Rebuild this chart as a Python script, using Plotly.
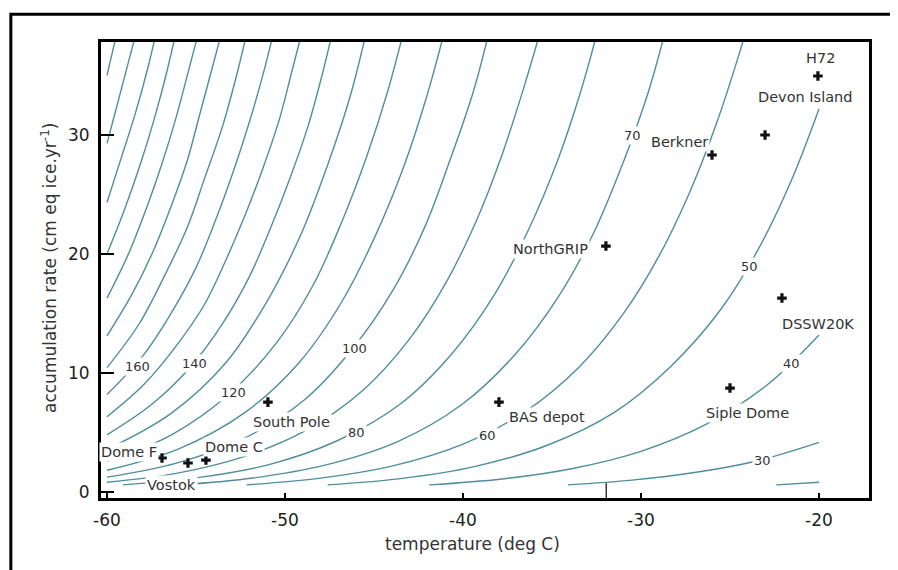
import plotly.graph_objects as go

# ---- contour lines: temperature (deg C) / accumulation (cm ice/yr) ----
t20 = [-22.4, -20.0]
a20 = [0.60, 0.82]
t30 = [-34.1, -30.5, -27.0, -23.4, -20.0]
a30 = [0.60, 1.00, 1.64, 2.65, 4.17]
t40 = [-41.9, -37.8, -33.9, -30.0, -26.3, -22.9, -20.0]
a40 = [0.60, 1.10, 1.96, 3.42, 5.72, 9.01, 13.19]
t50 = [-47.6, -43.4, -39.3, -35.3, -31.5, -28.3, -25.5, -23.3, -21.5, -20.0]
a50 = [0.60, 1.15, 2.16, 3.91, 6.70, 10.60, 15.38, 20.71, 26.37, 32.19]
t60 = [-52.15, -48.0, -44.0, -40.0, -36.5, -33.5, -31.0, -29.0, -27.3, -25.8, -24.5, -23.9]
a60 = [0.60, 1.17, 2.18, 4.03, 6.77, 10.47, 14.97, 19.8, 25.07, 30.8, 36.73, 39.8]
t70 = [-55.9, -51.8, -47.7, -43.7, -40.1, -37.1, -34.6, -32.6, -31.0, -29.6, -28.5]
a70 = [0.60, 1.18, 2.28, 4.22, 7.31, 11.51, 16.51, 21.96, 27.69, 33.55, 39.50]
t80 = [-59.1, -55.0, -50.9, -47.1, -43.5, -40.6, -38.2, -36.3, -34.7, -33.4, -32.3]
a80 = [0.60, 1.19, 2.31, 4.29, 7.42, 11.66, 16.67, 22.10, 27.79, 33.59, 39.50]
t90 = [-60.0, -56.1, -52.4, -48.8, -45.6, -43.0, -40.9, -39.2, -37.8, -36.6, -35.5]
a90 = [0.82, 1.57, 2.93, 5.21, 8.58, 12.87, 17.75, 22.97, 28.37, 33.90, 39.50]
t100 = [-60.0, -56.1, -52.3, -48.9, -46.2, -43.9, -42.1, -40.7, -39.4, -38.4]
a100 = [1.25, 2.43, 4.51, 7.76, 12.06, 17.05, 22.43, 28.02, 33.74, 39.50]
t110 = [-60.0, -56.0, -52.3, -49.2, -46.8, -44.9, -43.3, -42.0, -40.9]
a110 = [1.83, 3.61, 6.63, 10.89, 16.01, 21.61, 27.46, 33.43, 39.50]
t120 = [-60.0, -56.4, -53.2, -50.5, -48.4, -46.8, -45.4, -44.2, -43.2]
a120 = [2.59, 4.79, 8.15, 12.49, 17.44, 22.74, 28.24, 33.83, 39.50]
t130 = [-60.0, -56.4, -53.3, -51.0, -49.1, -47.6, -46.3, -45.3]
a130 = [3.57, 6.61, 10.91, 16.05, 21.66, 27.50, 33.45, 39.50]
t140 = [-60.0, -57.5, -55.3, -53.5, -52.0, -50.8, -49.7, -48.7, -47.9, -47.2]
a140 = [4.81, 7.35, 10.53, 14.17, 18.1, 22.22, 26.46, 30.77, 35.13, 39.5]
t150 = [-60.0, -57.9, -56.1, -54.5, -53.3, -52.2, -51.2, -50.3, -49.6, -48.9]
a150 = [6.33, 9.08, 12.3, 15.82, 19.56, 23.42, 27.38, 31.4, 35.42, 39.5]
t160 = [-60.0, -58.0, -56.4, -55.0, -53.9, -52.9, -52.0, -51.2, -50.5]
a160 = [8.2, 11.42, 15.02, 18.86, 22.85, 26.95, 31.09, 35.28, 39.5]
t170 = [-60.0, -58.2, -56.8, -55.5, -54.5, -53.5, -52.7, -52.0]
a170 = [10.45, 14.12, 18.08, 22.21, 26.44, 30.77, 35.13, 39.5]
t180 = [-60.0, -58.6, -57.4, -56.4, -55.5, -54.8, -54.1, -53.4]
a180 = [13.13, 16.61, 20.25, 24.0, 27.81, 31.68, 35.57, 39.5]
t190 = [-60.0, -58.8, -57.8, -56.9, -56.1, -55.4, -54.7]
a190 = [16.3, 19.99, 23.78, 27.65, 31.57, 35.52, 39.5]
t200 = [-60.0, -59.0, -58.1, -57.3, -56.6, -56.0]
a200 = [20.01, 23.81, 27.67, 31.59, 35.55, 39.5]
t210 = [-60.0, -59.2, -58.4, -57.7, -57.1]
a210 = [24.33, 28.08, 31.86, 35.67, 39.5]
t220 = [-60.0, -59.4, -58.8, -58.2]
a220 = [29.3, 32.69, 36.1, 39.5]
t230 = [-60.0, -59.3]
a230 = [35.01, 39.5]

levels = [20, 30, 40, 50, 60, 70, 80, 90, 100, 110, 120, 130, 140, 150, 160, 170, 180, 190, 200, 210, 220, 230]
level_T = [t20, t30, t40, t50, t60, t70, t80, t90, t100, t110, t120, t130, t140, t150, t160, t170, t180, t190, t200, t210, t220, t230]
level_A = [a20, a30, a40, a50, a60, a70, a80, a90, a100, a110, a120, a130, a140, a150, a160, a170, a180, a190, a200, a210, a220, a230]

# contour labels shown on the chart
clabel_text = ["160", "140", "120", "100", "80", "60", "70", "50", "40", "30"]
clabel_T = [-58.31, -55.06, -52.92, -46.07, -45.96, -38.65, -30.45, -23.88, -21.52, -23.15]
clabel_A = [10.59, 10.84, 8.40, 12.10, 5.04, 4.79, 30.0, 18.99, 10.76, 2.61]

# sites
site_names = ["H72", "Devon Island", "Berkner", "NorthGRIP", "DSSW20K", "Siple Dome",
              "BAS depot", "South Pole", "Dome C", "Vostok", "Dome F"]
site_T = [-20.06, -23.03, -26.01, -31.97, -22.08, -25.0, -37.98, -50.96, -54.44, -55.45, -56.91]
site_A = [34.96, 30.0, 28.32, 20.67, 16.30, 8.74, 7.56, 7.56, 2.69, 2.44, 2.86]
# where each site name is written
name_T = [-19.94, -20.79, -27.81, -35.11, -20.06, -24.04, -35.28, -49.66, -52.87, -56.4, -58.76]
name_A = [36.47, 33.19, 29.41, 20.42, 14.1, 6.64, 6.3, 5.88, 3.78, 0.59, 3.36]

ngrip_T = -31.95          # short vertical marker at the axis
ngrip_mark_A = [-0.5, 0.75]

x_ticks = [-60, -50, -40, -30, -20]
x_ticktext = ["-60", "-50", "-40", "-30", "-20"]
y_ticks = [0, 10, 20, 30]

FONT = "DejaVu Sans"
LINE_COLOR = "#4f8e9c"
TEXT_COLOR = "#333333"

fig = go.Figure()
for lv, ts, as_ in zip(levels, level_T, level_A):
    fig.add_trace(go.Scatter(x=ts, y=as_, mode="lines", name=str(lv),
                             line=dict(color=LINE_COLOR, width=1.4, shape="spline", smoothing=1.0),
                             showlegend=False, hoverinfo="skip"))

fig.add_trace(go.Scatter(x=[ngrip_T, ngrip_T], y=ngrip_mark_A, mode="lines",
                         line=dict(color="#333333", width=1.5), showlegend=False, hoverinfo="skip"))

for txt, x, y in zip(clabel_text, clabel_T, clabel_A):
    fig.add_annotation(x=x, y=y, text=txt, showarrow=False, xref="x", yref="y",
                       font=dict(family=FONT, size=13, color=TEXT_COLOR),
                       bgcolor="white", borderpad=1)

for txt, x, y in zip(site_names, name_T, name_A):
    fig.add_annotation(x=x, y=y, text=txt, showarrow=False, xref="x", yref="y",
                       font=dict(family=FONT, size=14.5, color=TEXT_COLOR),
                       bgcolor="white", borderpad=1)

fig.add_trace(go.Scatter(x=site_T, y=site_A, mode="markers", text=site_names,
                         marker=dict(symbol="cross", size=8, color="#111111"),
                         showlegend=False, hoverinfo="text"))

# axis titles
fig.add_annotation(x=0.484, y=-0.1009, xref="paper", yref="paper", text="temperature (deg C)",
                   showarrow=False, xanchor="center", yanchor="middle",
                   font=dict(family=FONT, size=17, color=TEXT_COLOR))
fig.add_annotation(x=-0.0677, y=0.5044, xref="paper", yref="paper",
                   text="accumulation rate (cm eq ice.yr<sup>-1</sup>)", textangle=-90,
                   showarrow=False, xanchor="center", yanchor="middle",
                   font=dict(family=FONT, size=17, color=TEXT_COLOR))

# outer frame
fig.add_shape(type="rect", xref="paper", yref="paper", x0=-0.1174, x1=1.06, y0=-0.2, y1=1.061,
              line=dict(color="black", width=3), fillcolor="rgba(0,0,0,0)", layer="above")

# the page body keeps an 8px margin, so the figure is 8px smaller than the window
fig.update_layout(width=890, height=562, margin=dict(l=93, r=29, t=34, b=72),
                  paper_bgcolor="white", plot_bgcolor="white", showlegend=False)
fig.update_xaxes(range=[-60.337, -17.19], tickvals=x_ticks, ticktext=x_ticktext,
                 ticks="inside", ticklen=5, tickwidth=1.5, tickcolor="black",
                 showline=True, linewidth=3, linecolor="black", mirror=True,
                 showgrid=False, zeroline=False, ticklabelstandoff=5,
                 tickfont=dict(family=FONT, size=17, color="#222222"))
fig.update_yaxes(range=[-0.50, 37.815], tickvals=y_ticks,
                 ticks="inside", ticklen=13, tickwidth=1.5, tickcolor="black",
                 showline=True, linewidth=3, linecolor="black", mirror=True,
                 showgrid=False, zeroline=False, ticklabelstandoff=5,
                 tickfont=dict(family=FONT, size=17, color="#222222"))

fig.write_html("out.html")
